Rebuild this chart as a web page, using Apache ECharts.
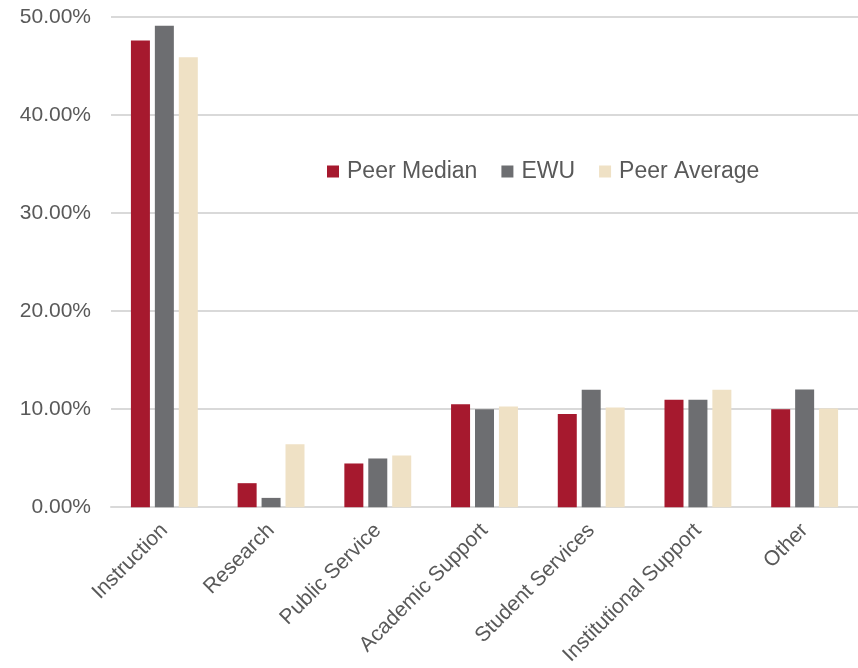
<!DOCTYPE html>
<html>
<head>
<meta charset="utf-8">
<script src="https://cdn.jsdelivr.net/npm/echarts@6/dist/echarts.min.js"></script>
<style>
  html, body { margin: 0; padding: 0; background: #ffffff; }
  #chart { width: 858px; height: 668px; }
</style>
</head>
<body>
<div id="chart"></div>
<script>
// Share of expenditures by function (percent)
const categories = ['Instruction', 'Research', 'Public Service', 'Academic Support', 'Student Services', 'Institutional Support', 'Other'];
const peerMedian = [47.6, 2.45, 4.46, 10.5, 9.5, 10.95, 10.0];
const ewu = [49.1, 0.95, 4.97, 10.0, 11.97, 10.95, 12.0];
const peerAverage = [45.9, 6.43, 5.28, 10.28, 10.17, 11.97, 10.07];
const seriesNames = ['Peer Median', 'EWU', 'Peer Average'];

const colors = ['#A6192E', '#6D6E71', '#EFE1C5'];
const textColor = '#595959';
const fontFamily = 'Liberation Sans, Arial, sans-serif';

const chart = echarts.init(document.getElementById('chart'), null, { renderer: 'canvas' });

chart.setOption({
  animation: false,
  color: colors,
  textStyle: { fontFamily: fontFamily },
  grid: { left: 111, right: 0, top: 17, bottom: 160, containLabel: false },
  legend: {
    data: seriesNames,
    left: 322,
    top: 155,
    itemWidth: 12,
    itemHeight: 12,
    itemGap: 24,
    icon: 'rect',
    textStyle: { color: textColor, fontSize: 23, fontFamily: fontFamily, padding: [0, 0, 0, 3] }
  },
  xAxis: {
    type: 'category',
    data: categories,
    axisLine: { show: true, lineStyle: { color: '#D9D9D9', width: 2 } },
    axisTick: { show: false },
    axisLabel: {
      rotate: 45,
      margin: 20,
      interval: 0,
      color: textColor,
      fontSize: 21,
      fontFamily: fontFamily
    }
  },
  yAxis: {
    type: 'value',
    min: 0,
    max: 50,
    interval: 10,
    axisLine: { show: false },
    axisTick: { show: false },
    splitLine: { lineStyle: { color: '#D9D9D9', width: 2 } },
    axisLabel: {
      margin: 20,
      color: textColor,
      fontSize: 21,
      fontFamily: fontFamily,
      formatter: v => v.toFixed(2) + '%'
    }
  },
  series: [
    { name: seriesNames[0], type: 'bar', data: peerMedian, barWidth: 19, barGap: '26%' },
    { name: seriesNames[1], type: 'bar', data: ewu, barWidth: 19, barGap: '26%' },
    { name: seriesNames[2], type: 'bar', data: peerAverage, barWidth: 19, barGap: '26%' }
  ]
});
</script>
</body>
</html>
